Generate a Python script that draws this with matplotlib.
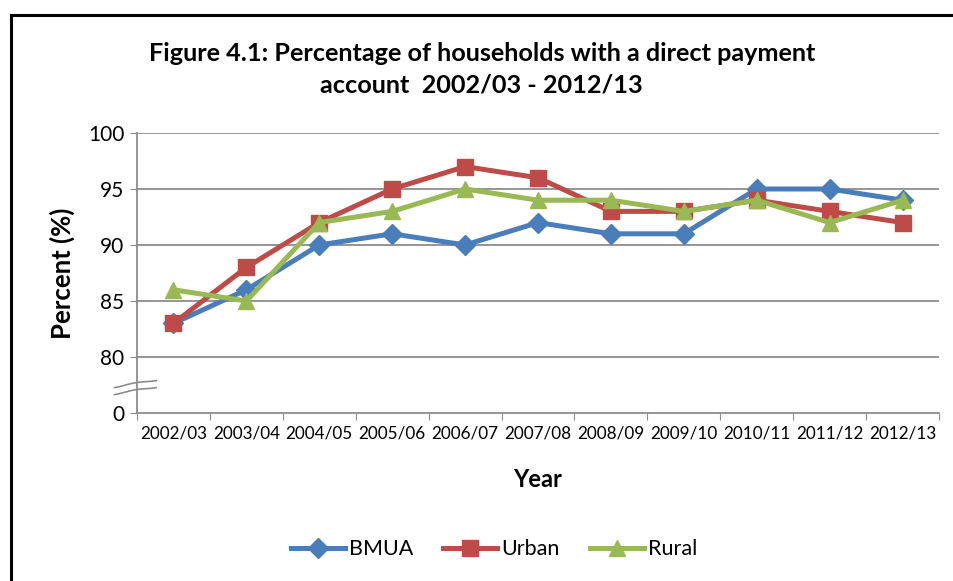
import numpy as np
import matplotlib.pyplot as plt
from matplotlib.lines import Line2D

plt.rcParams['font.family'] = ['Lato', 'DejaVu Sans']

years = ['2002/03', '2003/04', '2004/05', '2005/06', '2006/07', '2007/08',
         '2008/09', '2009/10', '2010/11', '2011/12', '2012/13']
bmua = [83, 86, 90, 91, 90, 92, 91, 91, 95, 95, 94]
urban = [83, 88, 92, 95, 97, 96, 93, 93, 94, 93, 92]
rural = [86, 85, 92, 93, 95, 94, 94, 93, 94, 92, 94]

y_ticks = [0, 80, 85, 90, 95, 100]
BREAK_POS = 75  # axis position used for the "0" below the break


def to_axis(v):
    # values >= 80 plot as is, 0 sits one step below 80 (broken axis)
    return [BREAK_POS if t == 0 else t for t in v]


fig = plt.figure(figsize=(9.54, 5.81), dpi=100)
ax = fig.add_axes([0.1436, 0.2892, 0.8407, 0.4819])

x = np.arange(len(years))
series = [('BMUA', bmua, '#4A7EBB', 'D', 10),
          ('Urban', urban, '#BE4B48', 's', 11),
          ('Rural', rural, '#98B954', '^', 12)]
for name, vals, col, mk, ms in series:
    ax.plot(x, vals, color=col, lw=3.6, marker=mk, ms=ms, label=name,
            clip_on=False, zorder=3)

ax.set_xlim(-0.5, len(years) - 0.5)
ax.set_ylim(BREAK_POS, 100)
ax.set_yticks(to_axis(y_ticks))
ax.set_yticklabels([str(t) for t in y_ticks], fontsize=15)
for t in y_ticks[1:]:
    ax.axhline(t, color='#8c8c8c', lw=1.3, zorder=1)

ax.set_xticks(np.arange(len(years) + 1) - 0.5)
ax.set_xticklabels([])
ax.set_xticks(x, minor=True)
ax.set_xticklabels(years, minor=True, fontsize=12.3)
ax.tick_params(axis='x', which='minor', length=0, pad=9)
ax.tick_params(axis='x', which='major', length=5, color='#8c8c8c')
ax.tick_params(axis='y', length=5, color='#8c8c8c', pad=4)

for s in ['top', 'right']:
    ax.spines[s].set_visible(False)
for s in ['left', 'bottom']:
    ax.spines[s].set_color('#8c8c8c')
    ax.spines[s].set_linewidth(1.3)

# axis break symbol
bx = np.linspace(-0.028, 0.024, 40)
wave = 0.008 * np.sin((bx - bx[0]) / (bx[-1] - bx[0]) * np.pi * 2 - np.pi / 2)
ramp = (bx - bx[0]) / (bx[-1] - bx[0]) * 0.025
for off in (0.068, 0.093):
    ax.plot(bx, off + ramp + wave * 0.3, color='#8c8c8c', lw=1.2,
            transform=ax.transAxes, clip_on=False, zorder=4)

ax.set_ylabel('Percent (%)', fontsize=18.5, fontweight='bold')
ax.yaxis.set_label_coords(-0.077, 0.5)
ax.set_xlabel('Year', fontsize=17, fontweight='bold')
ax.xaxis.set_label_coords(0.5, -0.196)

fig.text(0.505, 0.881, 'Figure 4.1: Percentage of households with a direct payment\naccount  2002/03 - 2012/13',
         ha='center', va='center', fontsize=18.2, fontweight='bold', linespacing=1.45)

fig.legend(loc='center', bbox_to_anchor=(0.518, 0.055), ncol=3, frameon=False,
           fontsize=15.5, handlelength=2.5, columnspacing=1.4, handletextpad=0.2)

# outer frame (only left and top edges are inside the picture)
fx = 11 / 954
fy = 1 - 15 / 581
fig.lines.append(Line2D([fx, fx], [0, fy], transform=fig.transFigure,
                        color='black', lw=2.2))
fig.lines.append(Line2D([fx, 1], [fy, fy], transform=fig.transFigure,
                        color='black', lw=2.2))

fig.savefig('out.png', dpi=100)
